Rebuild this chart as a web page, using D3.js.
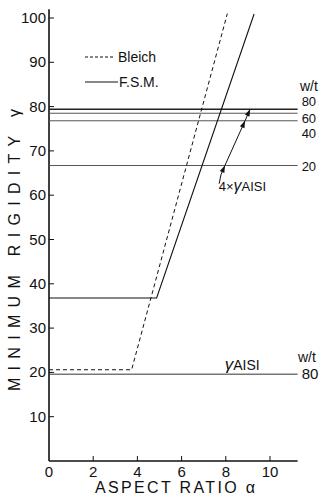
<!DOCTYPE html>
<html>
<head>
<meta charset="utf-8">
<script src="https://d3js.org/d3.v7.min.js"></script>
<style>
  body { margin: 0; background: #fff; }
  text { font-family: "Liberation Sans", Arial, sans-serif; fill: #111; }
</style>
</head>
<body>
<div id="chart"></div>
<script>
// values
var xTicks = [0, 2, 4, 6, 8, 10];
var yTicks = [10, 20, 30, 40, 50, 60, 70, 80, 90, 100];

// Bleich (dashed) and F.S.M. (solid): alpha, gamma
var bleichAlpha = [0, 3.74, 8.07];
var bleichGamma = [20.6, 20.6, 101];
var fsmAlpha = [0, 4.87, 9.28];
var fsmGamma = [36.8, 36.8, 100.9];

// 4 x gamma AISI for each w/t
var wtLabels = ["80", "60", "40", "20"];
var wtGamma = [79.4, 78.5, 76.8, 66.7];
var fourAisiAlpha = [9.1, 9.02, 8.87, 7.96];

// gamma AISI, w/t = 80
var aisiLabel = "80";
var aisiGamma = 19.6;

var width = 321, height = 497;
var svg = d3.select("#chart").append("svg")
    .attr("width", width).attr("height", height);

var x = d3.scaleLinear().domain([0, 10]).range([49, 270]);
var y = d3.scaleLinear().domain([0, 100]).range([461, 18]);
var xEnd = 11.25;

// axes
svg.append("line").attr("x1", x(0)).attr("x2", x(0))
    .attr("y1", y(0)).attr("y2", y(102))
    .attr("stroke", "#111").attr("stroke-width", 1.6);
svg.append("line").attr("x1", x(0)).attr("x2", x(xEnd))
    .attr("y1", y(0)).attr("y2", y(0))
    .attr("stroke", "#111").attr("stroke-width", 1.4);

// y ticks (inward)
svg.selectAll(".yt").data(yTicks).join("line")
    .attr("x1", x(0)).attr("x2", x(0) + 5)
    .attr("y1", d => y(d)).attr("y2", d => y(d))
    .attr("stroke", "#111").attr("stroke-width", 1);
svg.selectAll(".yl").data(yTicks).join("text")
    .attr("x", x(0) - 3).attr("y", d => y(d) + 5)
    .attr("text-anchor", "end").attr("font-size", 15)
    .text(d => d);

// x ticks (inward)
svg.selectAll(".xt").data(xTicks.slice(1)).join("line")
    .attr("x1", d => x(d)).attr("x2", d => x(d))
    .attr("y1", y(0)).attr("y2", y(0) - 5)
    .attr("stroke", "#111").attr("stroke-width", 1);
svg.selectAll(".xl").data(xTicks).join("text")
    .attr("x", d => x(d)).attr("y", y(0) + 16)
    .attr("text-anchor", "middle").attr("font-size", 15)
    .text(d => d);

// axis titles
svg.append("text")
    .attr("transform", "translate(20,250) rotate(-90)")
    .attr("text-anchor", "middle").attr("font-size", 16)
    .attr("textLength", 282).attr("lengthAdjust", "spacing")
    .text("MINIMUM   RIGIDITY   γ");
svg.append("text")
    .attr("x", 175).attr("y", 493)
    .attr("text-anchor", "middle").attr("font-size", 16)
    .attr("textLength", 160).attr("lengthAdjust", "spacing")
    .text("ASPECT  RATIO  α");

// horizontal 4 x gamma AISI levels
svg.selectAll(".hl").data(wtGamma).join("line")
    .attr("x1", x(0)).attr("x2", x(xEnd))
    .attr("y1", d => y(d)).attr("y2", d => y(d))
    .attr("stroke", (d, i) => i === 0 ? "#222" : "#555")
    .attr("stroke-width", (d, i) => i === 0 ? 1.4 : 1);
var labelShift = [-3, 10, 17, 5];
svg.selectAll(".hlab").data(wtLabels).join("text")
    .attr("x", x(xEnd) + 4)
    .attr("y", (d, i) => y(wtGamma[i]) + labelShift[i])
    .attr("font-size", 13)
    .text(d => d);
svg.append("text").attr("x", 300).attr("y", y(wtGamma[0]) - 18)
    .attr("font-size", 14).text("w/t");

// gamma AISI line (w/t 80)
svg.append("line").attr("x1", x(0)).attr("x2", x(xEnd))
    .attr("y1", y(aisiGamma)).attr("y2", y(aisiGamma))
    .attr("stroke", "#333").attr("stroke-width", 1);
svg.append("text").attr("x", x(xEnd) + 4).attr("y", y(aisiGamma) + 5)
    .attr("font-size", 15).text(aisiLabel);
svg.append("text").attr("x", 298).attr("y", y(aisiGamma) - 12)
    .attr("font-size", 14).text("w/t");
svg.append("text").attr("x", x(7.95)).attr("y", y(aisiGamma) - 4)
    .attr("font-size", 14)
    .html('<tspan font-style="italic" font-size="17">γ</tspan>AISI');

// curves
var line = d3.line().x(d => x(d[0])).y(d => y(d[1]));
svg.append("path")
    .attr("d", line(d3.zip(bleichAlpha, bleichGamma)))
    .attr("fill", "none").attr("stroke", "#111").attr("stroke-width", 1)
    .attr("stroke-dasharray", "4,3");
svg.append("path")
    .attr("d", line(d3.zip(fsmAlpha, fsmGamma)))
    .attr("fill", "none").attr("stroke", "#111").attr("stroke-width", 1.1);

// 4 x gamma AISI arrow line
var pts = d3.zip(fourAisiAlpha, wtGamma);
svg.append("path").attr("d", line(pts))
    .attr("fill", "none").attr("stroke", "#111").attr("stroke-width", 1);
var p0 = pts[pts.length - 1], p1 = pts[0];
var ang = Math.atan2(y(p1[1]) - y(p0[1]), x(p1[0]) - x(p0[0])) * 180 / Math.PI;
svg.selectAll(".arr").data([pts[0], pts[2], pts[3]]).join("path")
    .attr("d", "M0,0 L-7,-2.5 L-7,2.5 Z")
    .attr("fill", "#111")
    .attr("transform", d => "translate(" + x(d[0]) + "," + y(d[1]) + ") rotate(" + ang + ")");
// leader from label to the arrow line
svg.append("path")
    .attr("d", line([[p0[0], p0[1]], [7.78, 64.6], [7.7, 62.6]]))
    .attr("fill", "none").attr("stroke", "#111").attr("stroke-width", 1);
svg.append("text").attr("x", x(7.68)).attr("y", y(61))
    .attr("font-size", 13)
    .html('4×<tspan font-style="italic" font-size="16">γ</tspan>AISI');

// legend
svg.append("line").attr("x1", 85).attr("x2", 115).attr("y1", 57).attr("y2", 57)
    .attr("stroke", "#111").attr("stroke-dasharray", "3,2");
svg.append("text").attr("x", 118).attr("y", 62).attr("font-size", 14).text("Bleich");
svg.append("line").attr("x1", 85).attr("x2", 118).attr("y1", 82).attr("y2", 82)
    .attr("stroke", "#111");
svg.append("text").attr("x", 119).attr("y", 87).attr("font-size", 14).text("F.S.M.");
</script>
</body>
</html>
